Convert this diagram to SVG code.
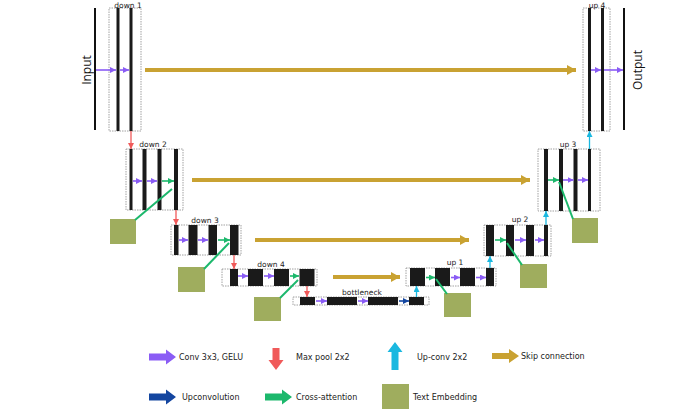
<svg xmlns="http://www.w3.org/2000/svg" width="700" height="415" viewBox="0 0 700 415">
<defs>
<style>
.box{fill:#fff;stroke:#8a8a8a;stroke-width:0.8;stroke-dasharray:1.5 1}
.bar{fill:#1a1a1a}
.lbl{font-family:"DejaVu Sans",sans-serif;font-size:7.5px;fill:#222;text-anchor:middle}
.leg{font-family:"DejaVu Sans",sans-serif;font-size:8px;fill:#222}
.io{font-family:"Open Sans",sans-serif;font-size:12px;fill:#111;text-anchor:middle;dominant-baseline:central}
.te{fill:#9fad5e}
.pu{stroke:#8a5cf5;stroke-width:1.6;fill:none;marker-end:url(#mp)}
.gr{stroke:#1cb86c;stroke-width:1.6;fill:none;marker-end:url(#mg)}
.bl{stroke:#1446a0;stroke-width:1.6;fill:none;marker-end:url(#mb)}
.rd{stroke:#f05a5a;stroke-width:1.3;fill:none;marker-end:url(#mr)}
.cy{stroke:#1ab8e0;stroke-width:1.3;fill:none;marker-end:url(#mc)}
.sk{stroke:#c9a232;stroke-width:4;fill:none;marker-end:url(#ms)}
.ga{stroke:#1cb86c;stroke-width:2;fill:none}
.line{stroke:#111;stroke-width:2}
</style>
<marker id="mp" markerUnits="userSpaceOnUse" markerWidth="6" markerHeight="6" refX="6" refY="3" orient="auto"><path d="M0,0L6,3L0,6z" fill="#8a5cf5"/></marker>
<marker id="mg" markerUnits="userSpaceOnUse" markerWidth="6" markerHeight="6" refX="6" refY="3" orient="auto"><path d="M0,0L6,3L0,6z" fill="#1cb86c"/></marker>
<marker id="mb" markerUnits="userSpaceOnUse" markerWidth="6" markerHeight="6" refX="6" refY="3" orient="auto"><path d="M0,0L6,3L0,6z" fill="#1446a0"/></marker>
<marker id="mr" markerUnits="userSpaceOnUse" markerWidth="6" markerHeight="6" refX="6" refY="3" orient="auto"><path d="M0,0L6,3L0,6z" fill="#f05a5a"/></marker>
<marker id="mc" markerUnits="userSpaceOnUse" markerWidth="6" markerHeight="6" refX="6" refY="3" orient="auto"><path d="M0,0L6,3L0,6z" fill="#1ab8e0"/></marker>
<marker id="ms" markerUnits="userSpaceOnUse" markerWidth="9" markerHeight="10" refX="9" refY="5" orient="auto"><path d="M0,0L9,5L0,10z" fill="#c9a232"/></marker>
</defs>
<rect width="700" height="415" fill="#fff"/>

<g id="input">
<line class="line" x1="95" y1="8" x2="95" y2="130"/>
<text class="io" transform="translate(86,70) rotate(-90)">Input</text>
</g>
<g id="output">
<line class="line" x1="624" y1="8" x2="624" y2="130"/>
<text class="io" transform="translate(637.5,70) rotate(-90)">Output</text>
</g>

<g id="down1">
<rect class="box" x="109" y="8" width="32" height="123"/>
<rect class="bar" x="116.5" y="8" width="3" height="123"/>
<rect class="bar" x="129.5" y="8" width="3" height="123"/>
<text class="lbl" x="128" y="7.5">down 1</text>
</g>
<g id="down2">
<rect class="box" x="126" y="149" width="57" height="61"/>
<rect class="bar" x="129.5" y="149" width="3" height="61"/>
<rect class="bar" x="142.5" y="149" width="4" height="61"/>
<rect class="bar" x="157.5" y="149" width="4" height="61"/>
<rect class="bar" x="174" y="149" width="4" height="61"/>
<text class="lbl" x="153" y="147">down 2</text>
</g>
<g id="down3">
<rect class="box" x="171" y="225" width="70" height="30"/>
<rect class="bar" x="174" y="225" width="4.5" height="30"/>
<rect class="bar" x="188.5" y="225" width="9" height="30"/>
<rect class="bar" x="208.5" y="225" width="8.5" height="30"/>
<rect class="bar" x="230" y="225" width="8.5" height="30"/>
<text class="lbl" x="205" y="222.5">down 3</text>
</g>
<g id="down4">
<rect class="box" x="222" y="269" width="95" height="17"/>
<rect class="bar" x="230" y="269" width="8" height="17"/>
<rect class="bar" x="248" y="269" width="15" height="17"/>
<rect class="bar" x="274" y="269" width="15" height="17"/>
<rect class="bar" x="299.5" y="269" width="15" height="17"/>
<text class="lbl" x="271" y="266.5">down 4</text>
</g>
<g id="bottleneck">
<rect class="box" x="293" y="297" width="136" height="8"/>
<rect class="bar" x="300" y="297" width="15" height="8"/>
<rect class="bar" x="327" y="297" width="30" height="8"/>
<rect class="bar" x="368" y="297" width="30" height="8"/>
<rect class="bar" x="409" y="297" width="15" height="8"/>
<text class="lbl" x="362" y="294.5">bottleneck</text>
</g>
<g id="up1">
<rect class="box" x="406" y="268" width="90" height="18"/>
<rect class="bar" x="410" y="268" width="15" height="18"/>
<rect class="bar" x="435" y="268" width="15" height="18"/>
<rect class="bar" x="460" y="268" width="15" height="18"/>
<rect class="bar" x="486" y="268" width="8" height="18"/>
<text class="lbl" x="455" y="265">up 1</text>
</g>
<g id="up2">
<rect class="box" x="484" y="225" width="67" height="31"/>
<rect class="bar" x="486" y="225" width="8" height="31"/>
<rect class="bar" x="506" y="225" width="8" height="31"/>
<rect class="bar" x="526" y="225" width="8" height="31"/>
<rect class="bar" x="544" y="225" width="4" height="31"/>
<text class="lbl" x="520" y="222">up 2</text>
</g>
<g id="up3">
<rect class="box" x="538" y="149" width="62" height="62"/>
<rect class="bar" x="544" y="149" width="4" height="62"/>
<rect class="bar" x="559" y="149" width="4" height="62"/>
<rect class="bar" x="573.5" y="149" width="4" height="62"/>
<rect class="bar" x="588" y="149" width="3" height="62"/>
<text class="lbl" x="568" y="146.5">up 3</text>
</g>
<g id="up4">
<rect class="box" x="583" y="8" width="27" height="123"/>
<rect class="bar" x="588" y="8" width="3" height="123"/>
<rect class="bar" x="601" y="8" width="3" height="123"/>
<text class="lbl" x="597" y="7.5">up 4</text>
</g>

<g id="te2"><rect class="te" x="110" y="219" width="26" height="25"/></g>
<g id="te3"><rect class="te" x="178" y="267" width="27" height="25"/></g>
<g id="te4"><rect class="te" x="254" y="297" width="27" height="24"/></g>
<g id="te5"><rect class="te" x="444" y="293" width="27" height="24"/></g>
<g id="te6"><rect class="te" x="520" y="264" width="27" height="24"/></g>
<g id="te7"><rect class="te" x="572" y="218" width="26" height="25"/></g>

<g id="connectors">
<!-- skips -->
<line class="sk" x1="145" y1="70" x2="576" y2="70"/>
<line class="sk" x1="192" y1="180" x2="530" y2="180"/>
<line class="sk" x1="255" y1="240" x2="469" y2="240"/>
<line class="sk" x1="333" y1="277" x2="400" y2="277"/>
<!-- input/output conv -->
<line class="pu" x1="96" y1="70" x2="116" y2="70"/>
<line class="pu" x1="120" y1="70" x2="129" y2="70"/>
<line class="pu" x1="591" y1="70" x2="601" y2="70"/>
<line class="pu" x1="604" y1="70" x2="623" y2="70"/>
<!-- down2 -->
<line class="pu" x1="133" y1="181" x2="142" y2="181"/>
<line class="pu" x1="147" y1="181" x2="157" y2="181"/>
<line class="gr" x1="162" y1="181" x2="174" y2="181"/>
<line class="ga" x1="135" y1="220" x2="172" y2="189"/>
<!-- down3 -->
<line class="pu" x1="179" y1="240" x2="188" y2="240"/>
<line class="pu" x1="198" y1="240" x2="208" y2="240"/>
<line class="gr" x1="218" y1="240" x2="230" y2="240"/>
<line class="ga" x1="204" y1="269" x2="229" y2="243"/>
<!-- down4 -->
<line class="pu" x1="238" y1="276" x2="248" y2="276"/>
<line class="pu" x1="264" y1="276" x2="274" y2="276"/>
<line class="gr" x1="290" y1="276" x2="299" y2="276"/>
<line class="ga" x1="280" y1="298" x2="298" y2="280"/>
<!-- bottleneck -->
<line class="pu" x1="316" y1="301" x2="327" y2="301"/>
<line class="pu" x1="358" y1="301" x2="368" y2="301"/>
<line class="bl" x1="399" y1="301" x2="409" y2="301"/>
<!-- up1 -->
<line class="gr" x1="426" y1="277.5" x2="435" y2="277.5"/>
<line class="pu" x1="451" y1="277.5" x2="460" y2="277.5"/>
<line class="pu" x1="476" y1="277.5" x2="486" y2="277.5"/>
<line class="ga" x1="447" y1="294" x2="436" y2="279"/>
<!-- up2 -->
<line class="gr" x1="495" y1="240" x2="506" y2="240"/>
<line class="pu" x1="515" y1="240" x2="526" y2="240"/>
<line class="pu" x1="535" y1="240" x2="544" y2="240"/>
<line class="ga" x1="522" y1="265" x2="507" y2="243"/>
<!-- up3 -->
<line class="gr" x1="548" y1="180" x2="559" y2="180"/>
<line class="pu" x1="563" y1="180" x2="573.5" y2="180"/>
<line class="pu" x1="578" y1="180" x2="588" y2="180"/>
<line class="ga" x1="573" y1="219" x2="559" y2="182"/>
<!-- max pool -->
<line class="rd" x1="131" y1="131" x2="131" y2="149"/>
<line class="rd" x1="176" y1="210" x2="176" y2="225"/>
<line class="rd" x1="234" y1="255" x2="234" y2="269"/>
<line class="rd" x1="307" y1="286" x2="307" y2="297"/>
<!-- up-conv -->
<line class="cy" x1="416.5" y1="297" x2="416.5" y2="286"/>
<line class="cy" x1="490" y1="268" x2="490" y2="256"/>
<line class="cy" x1="546" y1="225" x2="546" y2="211"/>
<line class="cy" x1="589.5" y1="149" x2="589.5" y2="131"/>
</g>

<g id="legend">
<path d="M149,353.5H166V349.5L176,357L166,364.5V360.5H149Z" fill="#8a5cf5"/>
<text class="leg" x="179" y="360">Conv 3x3, GELU</text>
<path d="M272.5,348V360H268.5L276,370L283.5,360H279.5V348Z" fill="#f05a5a"/>
<text class="leg" x="296" y="360">Max pool 2x2</text>
<path d="M391.5,370V352H387.5L395,342L402.5,352H398.5V370Z" fill="#1ab8e0"/>
<text class="leg" x="417" y="360">Up-conv 2x2</text>
<path d="M492,353H509V349L519,356L509,363V359H492Z" fill="#c9a232"/>
<text class="leg" x="521" y="359">Skip connection</text>
<path d="M149,393.5H166V389.5L176,397L166,404.5V400.5H149Z" fill="#1446a0"/>
<text class="leg" x="182" y="400">Upconvolution</text>
<path d="M265,393.5H282V389.5L292,397L282,404.5V400.5H265Z" fill="#1cb86c"/>
<text class="leg" x="296" y="400">Cross-attention</text>
<rect class="te" x="382" y="384" width="27" height="25"/>
<text class="leg" x="413" y="400">Text Embedding</text>
</g>
</svg>
